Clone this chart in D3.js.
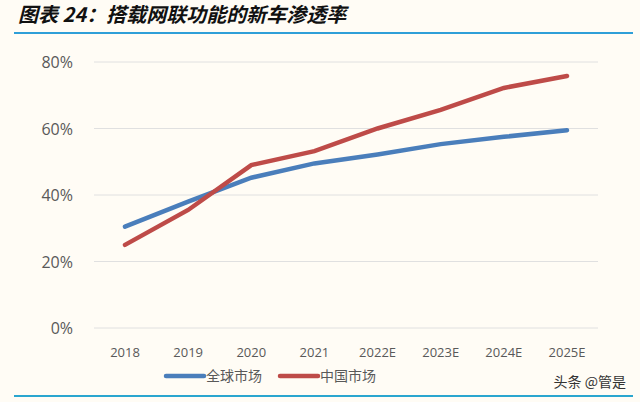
<!doctype html>
<html>
<head>
<meta charset="utf-8">
<script src="https://d3js.org/d3.v7.min.js"></script>
<style>
body { margin: 0; background: #fffcf5; }
text { font-family: "Open Sans", "Noto Sans CJK SC", sans-serif; }
</style>
</head>
<body>
<svg width="640" height="402"></svg>
<script>
var years = ["2018", "2019", "2020", "2021", "2022E", "2023E", "2024E", "2025E"];
var globalMarket = [0.305, 0.38, 0.452, 0.495, 0.522, 0.553, 0.575, 0.595];
var chinaMarket = [0.25, 0.355, 0.49, 0.532, 0.60, 0.656, 0.722, 0.758];
var yTicks = [0, 0.2, 0.4, 0.6, 0.8];

var svg = d3.select("svg");

var x = d3.scalePoint().domain(years).range([125, 567]);
var y = d3.scaleLinear().domain([0, 0.8]).range([328, 62]);

// title
svg.append("text").attr("x", 18).attr("y", 22)
    .style("font-family", "'Noto Sans CJK SC'").style("font-weight", "bold")
    .style("font-style", "italic").style("font-size", "20px").attr("fill", "#111")
    .text("图表 24：搭载网联功能的新车渗透率");
svg.append("line").attr("x1", 14).attr("x2", 633).attr("y1", 33).attr("y2", 33)
    .attr("stroke", "#2f9fd8").attr("stroke-width", 2);
svg.append("line").attr("x1", 14).attr("x2", 633).attr("y1", 396).attr("y2", 396)
    .attr("stroke", "#2aa6cf").attr("stroke-width", 2);

// grid + y axis
svg.append("g").selectAll("line").data(yTicks).enter().append("line")
    .attr("x1", 94).attr("x2", 598)
    .attr("y1", function (d) { return y(d); }).attr("y2", function (d) { return y(d); })
    .attr("stroke", "#e0e0e0");
svg.append("g").selectAll("text").data(yTicks).enter().append("text")
    .attr("x", 73).attr("y", function (d) { return y(d) + 6; })
    .attr("text-anchor", "end").attr("font-size", "16px").attr("fill", "#595959")
    .text(d3.format(".0%"));

// x labels
svg.append("g").selectAll("text").data(years).enter().append("text")
    .attr("x", function (d) { return x(d); }).attr("y", 357)
    .attr("text-anchor", "middle").attr("font-size", "13px").attr("fill", "#595959")
    .text(function (d) { return d; });

var line = d3.line().x(function (d, i) { return x(years[i]); }).y(function (d) { return y(d); });
svg.append("path").datum(globalMarket).attr("d", line).attr("fill", "none")
    .attr("stroke", "#4a7ebb").attr("stroke-width", 4.5).attr("stroke-linecap", "round");
svg.append("path").datum(chinaMarket).attr("d", line).attr("fill", "none")
    .attr("stroke", "#be4b48").attr("stroke-width", 4.5).attr("stroke-linecap", "round");

// legend
var legend = [["全球市场", "#4a7ebb", 166], ["中国市场", "#be4b48", 280]];
legend.forEach(function (l) {
    svg.append("line").attr("x1", l[2]).attr("x2", l[2] + 38).attr("y1", 376).attr("y2", 376)
        .attr("stroke", l[1]).attr("stroke-width", 4.5).attr("stroke-linecap", "round");
    svg.append("text").attr("x", l[2] + 40).attr("y", 381).attr("font-size", "14px")
        .attr("fill", "#595959").style("font-family", "'Noto Sans CJK SC'").text(l[0]);
});

// watermark
svg.append("text").attr("x", 626).attr("y", 387).attr("text-anchor", "end")
    .attr("font-size", "14px").attr("fill", "#333").style("font-family", "'Noto Sans CJK SC'")
    .text("头条 @管是");
</script>
</body>
</html>
